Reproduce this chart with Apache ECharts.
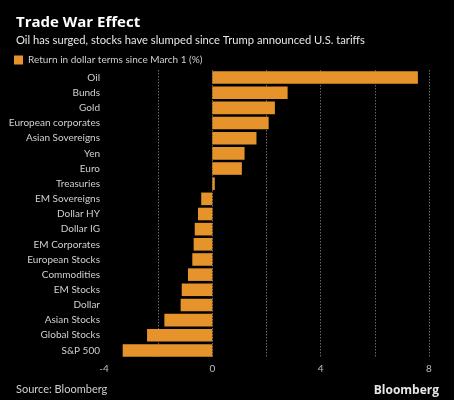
<!DOCTYPE html>
<html><head><meta charset="utf-8">
<script src="https://cdn.jsdelivr.net/npm/echarts@6/dist/echarts.min.js"></script>
<style>html,body{margin:0;padding:0;background:#fff;}#c{width:454px;height:400px;background:#000;}</style>
</head><body><div id="c"></div>
<script>
const categories = ["Oil","Bunds","Gold","European corporates","Asian Sovereigns","Yen","Euro","Treasuries","EM Sovereigns","Dollar HY","Dollar IG","EM Corporates","European Stocks","Commodities","EM Stocks","Dollar","Asian Stocks","Global Stocks","S&P 500"];
const returns = [7.59,2.78,2.31,2.08,1.63,1.19,1.09,0.09,-0.41,-0.53,-0.65,-0.69,-0.74,-0.90,-1.13,-1.17,-1.77,-2.41,-3.31];
const xTickLabels = [-4,0,4,8];
const seriesName = "Return in dollar terms since March 1 (%)";

const font = "Lato";
const chart = echarts.init(document.getElementById('c'));
chart.setOption({
  backgroundColor: '#000',
  animation: false,
  title: [
    {text: 'Trade War Effect', left: 11, top: 10, textStyle: {color: '#fff', fontSize: 15, fontWeight: 'bold', fontFamily: 'Open Sans'}},
    {text: 'Oil has surged, stocks have slumped since Trump announced U.S. tariffs', left: 11, top: 30, textStyle: {color: '#e6e6e6', fontSize: 11.2, fontWeight: 'normal', fontFamily: font}},
    {text: 'Source: Bloomberg', left: 11, top: 379, textStyle: {color: '#cfcfcf', fontSize: 11, fontWeight: 'normal', fontFamily: font}},
    {text: 'Bloomberg', right: 10, top: 380, textStyle: {color: '#e6e6e6', fontSize: 12, fontWeight: 'bold', fontFamily: 'Open Sans'}}
  ],
  legend: {
    data: [seriesName], left: 9, top: 50, icon: 'rect', itemWidth: 9, itemHeight: 9, itemGap: 5,
    textStyle: {color: '#cfcfcf', fontSize: 10, fontFamily: font}
  },
  grid: {left: 104, top: 70, width: 325, height: 288, containLabel: false},
  xAxis: {
    type: 'value', min: -4, max: 8, interval: 2,
    axisLine: {show: false}, axisTick: {show: false},
    axisLabel: {color: '#bdbdbd', fontSize: 10, fontFamily: font, margin: 6,
      formatter: v => xTickLabels.includes(v) ? String(v) : ''},
    splitLine: {show: true, showMinLine: false, lineStyle: {color: '#666', type: [1.5, 1.5], width: 1}}
  },
  yAxis: {
    type: 'category', data: categories, inverse: true,
    axisLine: {show: false}, axisTick: {show: false},
    axisLabel: {color: '#d0d0d0', fontSize: 10, fontFamily: font, margin: 4}
  },
  series: [{
    name: seriesName, type: 'bar', data: returns, barCategoryGap: '17%',
    itemStyle: {color: '#E6932B'}
  }]
});
</script></body></html>
